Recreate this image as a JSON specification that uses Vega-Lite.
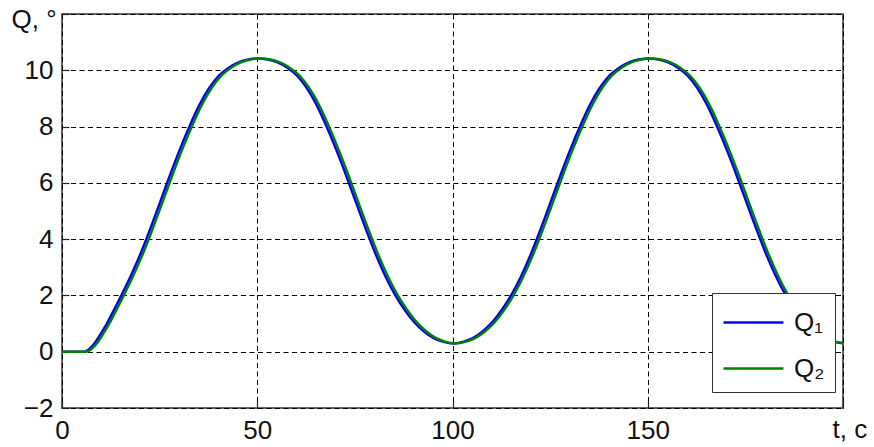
{
  "$schema": "https://vega.github.io/schema/vega-lite/v6.json",
  "width": 781,
  "height": 394,
  "autosize": {"type": "none"},
  "padding": {"left": 62, "top": 14, "right": 31, "bottom": 39},
  "background": "white",
  "config": {
    "font": "Liberation Sans",
    "view": {"stroke": "#333333", "strokeWidth": 1.5},
    "axis": {
      "labelFont": "Liberation Sans",
      "labelFontSize": 26,
      "labelColor": "#111111",
      "titleFont": "Liberation Sans",
      "titleFontSize": 26,
      "titleFontWeight": "normal",
      "titleColor": "#111111",
      "grid": true,
      "gridColor": "#000000",
      "gridDash": [5, 3.5],
      "gridWidth": 1,
      "domain": false,
      "ticks": true,
      "tickSize": -7,
      "tickColor": "#222222",
      "tickWidth": 1.2
    },
    "legend": {
      "orient": "none",
      "legendX": 650,
      "legendY": 279,
      "fillColor": "white",
      "strokeColor": "#333333",
      "padding": 10,
      "symbolType": "M-1,0H2.33",
      "symbolSize": 1296,
      "symbolStrokeWidth": 2.5,
      "labelFont": "Liberation Sans",
      "labelFontSize": 26,
      "labelColor": "#111111",
      "labelOffset": 33,
      "rowPadding": 13
    }
  },
  "data": {
    "values": [
      {"t": 0, "Q": 0, "s": "Q₁"}, {"t": 5.7, "Q": 0, "s": "Q₁"}, {"t": 7, "Q": 0.1, "s": "Q₁"}, {"t": 8.5, "Q": 0.33, "s": "Q₁"}, {"t": 10, "Q": 0.65, "s": "Q₁"}, {"t": 11.5, "Q": 1.0, "s": "Q₁"}, {"t": 13, "Q": 1.4, "s": "Q₁"}, {"t": 14.2, "Q": 1.72, "s": "Q₁"}, {"t": 15.2, "Q": 2.0, "s": "Q₁"},
      {"t": 17.7, "Q": 2.72, "s": "Q₁"}, {"t": 20.2, "Q": 3.51, "s": "Q₁"}, {"t": 22.7, "Q": 4.40, "s": "Q₁"}, {"t": 25.2, "Q": 5.34, "s": "Q₁"}, {"t": 27.7, "Q": 6.29, "s": "Q₁"}, {"t": 30.2, "Q": 7.19, "s": "Q₁"}, {"t": 32.7, "Q": 8.02, "s": "Q₁"}, {"t": 35.2, "Q": 8.77, "s": "Q₁"}, {"t": 37.7, "Q": 9.37, "s": "Q₁"}, {"t": 40.2, "Q": 9.81, "s": "Q₁"}, {"t": 42.7, "Q": 10.09, "s": "Q₁"}, {"t": 45.2, "Q": 10.28, "s": "Q₁"}, {"t": 47.7, "Q": 10.38, "s": "Q₁"}, {"t": 50.2, "Q": 10.42, "s": "Q₁"},
      {"t": 52.7, "Q": 10.38, "s": "Q₁"}, {"t": 55.2, "Q": 10.28, "s": "Q₁"}, {"t": 57.7, "Q": 10.09, "s": "Q₁"}, {"t": 60.2, "Q": 9.81, "s": "Q₁"}, {"t": 62.7, "Q": 9.37, "s": "Q₁"}, {"t": 65.2, "Q": 8.77, "s": "Q₁"}, {"t": 67.7, "Q": 8.02, "s": "Q₁"}, {"t": 70.2, "Q": 7.19, "s": "Q₁"}, {"t": 72.7, "Q": 6.29, "s": "Q₁"}, {"t": 75.2, "Q": 5.34, "s": "Q₁"}, {"t": 77.7, "Q": 4.40, "s": "Q₁"}, {"t": 80.2, "Q": 3.51, "s": "Q₁"}, {"t": 82.7, "Q": 2.72, "s": "Q₁"}, {"t": 85.2, "Q": 2.05, "s": "Q₁"}, {"t": 87.7, "Q": 1.50, "s": "Q₁"}, {"t": 90.2, "Q": 1.05, "s": "Q₁"}, {"t": 92.7, "Q": 0.72, "s": "Q₁"}, {"t": 95.2, "Q": 0.48, "s": "Q₁"}, {"t": 97.7, "Q": 0.35, "s": "Q₁"}, {"t": 100.2, "Q": 0.29, "s": "Q₁"},
      {"t": 102.7, "Q": 0.35, "s": "Q₁"}, {"t": 105.2, "Q": 0.48, "s": "Q₁"}, {"t": 107.7, "Q": 0.72, "s": "Q₁"}, {"t": 110.2, "Q": 1.05, "s": "Q₁"}, {"t": 112.7, "Q": 1.50, "s": "Q₁"}, {"t": 115.2, "Q": 2.05, "s": "Q₁"}, {"t": 117.7, "Q": 2.72, "s": "Q₁"}, {"t": 120.2, "Q": 3.51, "s": "Q₁"}, {"t": 122.7, "Q": 4.40, "s": "Q₁"}, {"t": 125.2, "Q": 5.34, "s": "Q₁"}, {"t": 127.7, "Q": 6.29, "s": "Q₁"}, {"t": 130.2, "Q": 7.19, "s": "Q₁"}, {"t": 132.7, "Q": 8.02, "s": "Q₁"}, {"t": 135.2, "Q": 8.77, "s": "Q₁"}, {"t": 137.7, "Q": 9.37, "s": "Q₁"}, {"t": 140.2, "Q": 9.81, "s": "Q₁"}, {"t": 142.7, "Q": 10.09, "s": "Q₁"}, {"t": 145.2, "Q": 10.28, "s": "Q₁"}, {"t": 147.7, "Q": 10.38, "s": "Q₁"}, {"t": 150.2, "Q": 10.42, "s": "Q₁"},
      {"t": 152.7, "Q": 10.38, "s": "Q₁"}, {"t": 155.2, "Q": 10.28, "s": "Q₁"}, {"t": 157.7, "Q": 10.09, "s": "Q₁"}, {"t": 160.2, "Q": 9.81, "s": "Q₁"}, {"t": 162.7, "Q": 9.37, "s": "Q₁"}, {"t": 165.2, "Q": 8.77, "s": "Q₁"}, {"t": 167.7, "Q": 8.02, "s": "Q₁"}, {"t": 170.2, "Q": 7.19, "s": "Q₁"}, {"t": 172.7, "Q": 6.29, "s": "Q₁"}, {"t": 175.2, "Q": 5.34, "s": "Q₁"}, {"t": 177.7, "Q": 4.40, "s": "Q₁"}, {"t": 180.2, "Q": 3.51, "s": "Q₁"}, {"t": 182.7, "Q": 2.72, "s": "Q₁"}, {"t": 185.2, "Q": 2.05, "s": "Q₁"}, {"t": 187.7, "Q": 1.50, "s": "Q₁"}, {"t": 190.2, "Q": 1.05, "s": "Q₁"}, {"t": 192.7, "Q": 0.72, "s": "Q₁"}, {"t": 195.2, "Q": 0.48, "s": "Q₁"}, {"t": 197.7, "Q": 0.35, "s": "Q₁"}, {"t": 200, "Q": 0.3, "s": "Q₁"},

      {"t": 0, "Q": 0, "s": "Q₂"}, {"t": 6.3, "Q": 0, "s": "Q₂"}, {"t": 7.6, "Q": 0.1, "s": "Q₂"}, {"t": 9.1, "Q": 0.33, "s": "Q₂"}, {"t": 10.6, "Q": 0.65, "s": "Q₂"}, {"t": 12.1, "Q": 1.0, "s": "Q₂"}, {"t": 13.6, "Q": 1.4, "s": "Q₂"}, {"t": 14.8, "Q": 1.72, "s": "Q₂"}, {"t": 15.8, "Q": 2.0, "s": "Q₂"},
      {"t": 18.3, "Q": 2.72, "s": "Q₂"}, {"t": 20.8, "Q": 3.51, "s": "Q₂"}, {"t": 23.3, "Q": 4.40, "s": "Q₂"}, {"t": 25.8, "Q": 5.34, "s": "Q₂"}, {"t": 28.3, "Q": 6.29, "s": "Q₂"}, {"t": 30.8, "Q": 7.19, "s": "Q₂"}, {"t": 33.3, "Q": 8.02, "s": "Q₂"}, {"t": 35.8, "Q": 8.77, "s": "Q₂"}, {"t": 38.3, "Q": 9.37, "s": "Q₂"}, {"t": 40.8, "Q": 9.81, "s": "Q₂"}, {"t": 43.3, "Q": 10.09, "s": "Q₂"}, {"t": 45.8, "Q": 10.28, "s": "Q₂"}, {"t": 48.3, "Q": 10.38, "s": "Q₂"}, {"t": 50.8, "Q": 10.42, "s": "Q₂"},
      {"t": 53.3, "Q": 10.38, "s": "Q₂"}, {"t": 55.8, "Q": 10.28, "s": "Q₂"}, {"t": 58.3, "Q": 10.09, "s": "Q₂"}, {"t": 60.8, "Q": 9.81, "s": "Q₂"}, {"t": 63.3, "Q": 9.37, "s": "Q₂"}, {"t": 65.8, "Q": 8.77, "s": "Q₂"}, {"t": 68.3, "Q": 8.02, "s": "Q₂"}, {"t": 70.8, "Q": 7.19, "s": "Q₂"}, {"t": 73.3, "Q": 6.29, "s": "Q₂"}, {"t": 75.8, "Q": 5.34, "s": "Q₂"}, {"t": 78.3, "Q": 4.40, "s": "Q₂"}, {"t": 80.8, "Q": 3.51, "s": "Q₂"}, {"t": 83.3, "Q": 2.72, "s": "Q₂"}, {"t": 85.8, "Q": 2.05, "s": "Q₂"}, {"t": 88.3, "Q": 1.50, "s": "Q₂"}, {"t": 90.8, "Q": 1.05, "s": "Q₂"}, {"t": 93.3, "Q": 0.72, "s": "Q₂"}, {"t": 95.8, "Q": 0.48, "s": "Q₂"}, {"t": 98.3, "Q": 0.35, "s": "Q₂"}, {"t": 100.8, "Q": 0.29, "s": "Q₂"},
      {"t": 103.3, "Q": 0.35, "s": "Q₂"}, {"t": 105.8, "Q": 0.48, "s": "Q₂"}, {"t": 108.3, "Q": 0.72, "s": "Q₂"}, {"t": 110.8, "Q": 1.05, "s": "Q₂"}, {"t": 113.3, "Q": 1.50, "s": "Q₂"}, {"t": 115.8, "Q": 2.05, "s": "Q₂"}, {"t": 118.3, "Q": 2.72, "s": "Q₂"}, {"t": 120.8, "Q": 3.51, "s": "Q₂"}, {"t": 123.3, "Q": 4.40, "s": "Q₂"}, {"t": 125.8, "Q": 5.34, "s": "Q₂"}, {"t": 128.3, "Q": 6.29, "s": "Q₂"}, {"t": 130.8, "Q": 7.19, "s": "Q₂"}, {"t": 133.3, "Q": 8.02, "s": "Q₂"}, {"t": 135.8, "Q": 8.77, "s": "Q₂"}, {"t": 138.3, "Q": 9.37, "s": "Q₂"}, {"t": 140.8, "Q": 9.81, "s": "Q₂"}, {"t": 143.3, "Q": 10.09, "s": "Q₂"}, {"t": 145.8, "Q": 10.28, "s": "Q₂"}, {"t": 148.3, "Q": 10.38, "s": "Q₂"}, {"t": 150.8, "Q": 10.42, "s": "Q₂"},
      {"t": 153.3, "Q": 10.38, "s": "Q₂"}, {"t": 155.8, "Q": 10.28, "s": "Q₂"}, {"t": 158.3, "Q": 10.09, "s": "Q₂"}, {"t": 160.8, "Q": 9.81, "s": "Q₂"}, {"t": 163.3, "Q": 9.37, "s": "Q₂"}, {"t": 165.8, "Q": 8.77, "s": "Q₂"}, {"t": 168.3, "Q": 8.02, "s": "Q₂"}, {"t": 170.8, "Q": 7.19, "s": "Q₂"}, {"t": 173.3, "Q": 6.29, "s": "Q₂"}, {"t": 175.8, "Q": 5.34, "s": "Q₂"}, {"t": 178.3, "Q": 4.40, "s": "Q₂"}, {"t": 180.8, "Q": 3.51, "s": "Q₂"}, {"t": 183.3, "Q": 2.72, "s": "Q₂"}, {"t": 185.8, "Q": 2.05, "s": "Q₂"}, {"t": 188.3, "Q": 1.50, "s": "Q₂"}, {"t": 190.8, "Q": 1.05, "s": "Q₂"}, {"t": 193.3, "Q": 0.72, "s": "Q₂"}, {"t": 195.8, "Q": 0.48, "s": "Q₂"}, {"t": 198.3, "Q": 0.35, "s": "Q₂"}, {"t": 200, "Q": 0.31, "s": "Q₂"}
    ]
  },
  "mark": {"type": "line", "strokeWidth": 2.5, "interpolate": "monotone", "clip": true},
  "encoding": {
    "x": {
      "field": "t",
      "type": "quantitative",
      "scale": {"domain": [0, 200], "nice": false, "zero": false},
      "axis": {
        "values": [0, 50, 100, 150, 200],
        "labelExpr": "datum.value == 200 ? '' : datum.label",
        "labelPadding": 16,
        "labelFlush": false,
        "title": "t, c",
        "titleAlign": "left",
        "titleBaseline": "alphabetic",
        "titleAnchor": "start",
        "titleX": 770,
        "titleY": 29
      }
    },
    "y": {
      "field": "Q",
      "type": "quantitative",
      "scale": {"domain": [-2, 12], "nice": false, "zero": false},
      "axis": {
        "values": [-2, 0, 2, 4, 6, 8, 10, 12],
        "labelExpr": "datum.value == 12 ? '' : datum.label",
        "labelPadding": 16,
        "labelFlush": false,
        "title": "Q, °",
        "titleAngle": 0,
        "titleAlign": "left",
        "titleBaseline": "alphabetic",
        "titleAnchor": "start",
        "titleX": -51,
        "titleY": 13
      }
    },
    "color": {
      "field": "s",
      "type": "nominal",
      "scale": {"domain": ["Q₁", "Q₂"], "range": ["#0000ff", "#008000"]},
      "legend": {"title": null}
    }
  }
}
